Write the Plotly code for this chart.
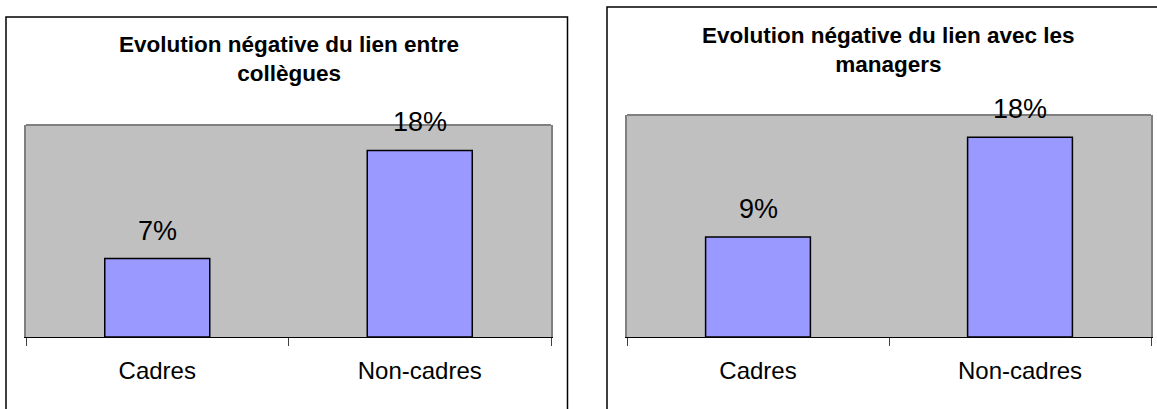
import plotly.graph_objects as go

# ---- data ----
categories = ["Cadres", "Non-cadres"]
values_collegues = [0.074, 0.176]
values_managers = [0.09, 0.18]
title_collegues = "Evolution négative du lien entre<br>collègues"
title_managers = "Evolution négative du lien avec les<br>managers"

W, H = 1157, 409
FONT = "Liberation Sans, Arial, sans-serif"


def px(x):
    return x / W


def py(y):
    return 1 - y / H


fig = go.Figure()
bar_style = dict(width=0.4, marker=dict(color="#9999FF", line=dict(color="black", width=1.5)),
                 hoverinfo="skip", showlegend=False)
fig.add_trace(go.Bar(x=categories, y=values_collegues, xaxis="x", yaxis="y", **bar_style))
fig.add_trace(go.Bar(x=categories, y=values_managers, xaxis="x2", yaxis="y2", **bar_style))

xcommon = dict(showline=True, linecolor="black", linewidth=1, ticks="outside", ticklen=8,
               tickcolor="#404040", tickwidth=1, tickson="boundaries", showgrid=False,
               zeroline=False, tickfont=dict(family=FONT, size=24, color="black"),
               ticklabelstandoff=12, fixedrange=True)
ycommon = dict(range=[0, 0.2], showticklabels=False, showgrid=False, zeroline=False,
               showline=True, mirror=True, linecolor="#808080", linewidth=2, ticks="",
               fixedrange=True)

fig.update_layout(
    width=W, height=H, autosize=False,
    margin=dict(l=0, r=0, t=0, b=0),
    paper_bgcolor="white", plot_bgcolor="#C0C0C0",
    xaxis=dict(domain=[px(26), px(551)], anchor="y", **xcommon),
    yaxis=dict(domain=[py(337), py(125)], anchor="x", **ycommon),
    xaxis2=dict(domain=[px(627), px(1151)], anchor="y2", **xcommon),
    yaxis2=dict(domain=[py(337), py(115)], anchor="x2", **ycommon),
    bargap=0.6,
)

shapes = [
    # outer chart boxes
    dict(type="rect", xref="paper", yref="paper", x0=px(6), x1=px(567.5), y0=-0.05, y1=py(17),
         line=dict(color="black", width=1.5), fillcolor="rgba(0,0,0,0)", layer="above"),
    dict(type="rect", xref="paper", yref="paper", x0=px(607), x1=1.05, y0=-0.05, y1=py(7),
         line=dict(color="black", width=1.5), fillcolor="rgba(0,0,0,0)", layer="above"),
    # top border of plot areas
    dict(type="line", xref="x domain", yref="y domain", x0=0, x1=1, y0=1, y1=1,
         line=dict(color="#808080", width=2)),
    dict(type="line", xref="x2 domain", yref="y2 domain", x0=0, x1=1, y0=1, y1=1,
         line=dict(color="#808080", width=2)),
]

annotations = []
for xa, ya, vals in (("x", "y", values_collegues), ("x2", "y2", values_managers)):
    for cat, v in zip(categories, vals):
        annotations.append(dict(x=cat, y=v, xref=xa, yref=ya, text=f"{round(v * 100)}%",
                                showarrow=False, yanchor="middle", yshift=28,
                                font=dict(family=FONT, size=27, color="black")))

annotations.append(dict(x=px(289), y=py(59), xref="paper", yref="paper", text=f"<b>{title_collegues}</b>",
                        showarrow=False, xanchor="center", yanchor="middle",
                        font=dict(family=FONT, size=22.5, color="black")))
annotations.append(dict(x=px(888), y=py(50), xref="paper", yref="paper", text=f"<b>{title_managers}</b>",
                        showarrow=False, xanchor="center", yanchor="middle",
                        font=dict(family=FONT, size=22.5, color="black")))

fig.update_layout(shapes=shapes, annotations=annotations)

fig.write_html("out.html", config={"displayModeBar": False, "staticPlot": True},
               post_script="document.body.style.margin='0';document.body.style.overflow='hidden';")
